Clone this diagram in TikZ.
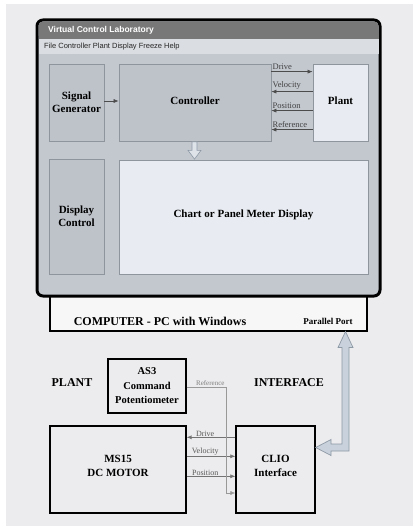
\documentclass[tikz,border=0pt]{standalone}
\usepackage{fontspec}
\setmainfont{Liberation Serif}
\newfontfamily\sansf{Liberation Sans}
\usetikzlibrary{arrows.meta,calc}
\definecolor{bgc}{HTML}{ECECEE}
\definecolor{wing}{HTML}{C3C8CF}
\definecolor{boxg}{HTML}{BEC3CA}
\definecolor{boxb}{HTML}{8F959C}
\definecolor{lite}{HTML}{E8ECF2}
\definecolor{titleg}{HTML}{787878}
\definecolor{menug}{HTML}{DADDE1}
\definecolor{hollowf}{HTML}{C8D1DC}
\definecolor{hollowd}{HTML}{8E99A6}
\tikzset{
  gbox/.style={draw=boxb, fill=boxg, line width=0.8pt, align=center, font=\bfseries\fontsize{11}{13}\selectfont, inner sep=0pt},
  lbox/.style={draw=boxb, fill=lite, line width=0.8pt, align=center, font=\bfseries\fontsize{11}{13}\selectfont, inner sep=0pt},
  bbox/.style={draw=black, fill=bgc, line width=1.4pt, align=center, font=\bfseries\fontsize{11}{14}\selectfont, inner sep=0pt},
  btxt/.style={align=center, font=\bfseries\fontsize{11}{14}\selectfont, inner sep=0pt},
  conn/.style={draw=black!70, line width=0.5pt, -{Latex[length=5pt,width=4pt]}},
  lconn/.style={draw=black!55, line width=0.45pt, -{Latex[length=5pt,width=4pt]}},
  tlab/.style={font=\fontsize{8.5}{9}\selectfont, text=black!75, inner sep=1pt},
  blab/.style={font=\fontsize{8}{9}\selectfont, text=black!65, inner sep=1pt},
  big/.style={font=\bfseries\fontsize{12}{14}\selectfont}
}
\begin{document}
\begin{tikzpicture}[x=1pt,y=-1pt]
\useasboundingbox (0,0) rectangle (413,526);
\fill[white] (0,0) rectangle (413,526);
\fill[bgc] (6,4) rectangle (413,526);
% computer box
\node[draw=black, fill=white!97!black, line width=1.1pt, minimum width=317pt, minimum height=40pt, inner sep=0pt] (comp) at (208.5,311) {};
\node[big, anchor=center] (comptxt) at (160,321) {COMPUTER - PC with Windows};
\node[font=\bfseries\fontsize{9}{10}\selectfont] (pport) at (328,321) {Parallel Port};
% window
\draw[fill=wing, draw=black, line width=3pt, rounded corners=6pt] (37,20) rectangle (380,296);
\fill[titleg, rounded corners=4pt] (38.5,21.5) rectangle (378.5,39);
\fill[titleg] (38.5,30) rectangle (378.5,39);
\fill[menug] (38.5,39) rectangle (378.5,54);
\node[anchor=west, text=white, font=\sansf\bfseries\fontsize{8.5}{10}\selectfont, inner sep=0pt] (title) at (48,30.5) {Virtual Control Laboratory};
\node[anchor=west, text=black!85, font=\sansf\fontsize{7.5}{9}\selectfont, inner sep=0pt] (menu) at (44,47) {File Controller Plant Display Freeze Help};
% inner boxes
\node[gbox, minimum width=55pt, minimum height=77pt] (sg) at (76.5,102.5) {Signal\\Generator};
\node[gbox, minimum width=152pt, minimum height=77pt, text depth=0pt] (ctrl) at (195,102.5) {\raisebox{3pt}{Controller}};
\node[lbox, minimum width=55pt, minimum height=77pt] (plant) at (340.5,102.5) {\raisebox{3pt}{Plant}};
\node[gbox, minimum width=55pt, minimum height=115pt] (dc) at (76.5,216.5) {Display\\Control};
\node[lbox, minimum width=249pt, minimum height=114pt] (chart) at (243.5,217) {\raisebox{7pt}{Chart or Panel Meter Display}};
% connectors in window
\draw[conn] (sg.east |- 0,101) -- (ctrl.west |- 0,101);
\draw[conn] ($(ctrl.north east)+(0,8)$) -- node[tlab, pos=0, anchor=south west, yshift=1pt] {Drive} ($(plant.north west)+(0,8)$);
\draw[conn] ($(plant.north west)+(0,28)$) -- node[tlab, pos=1, anchor=south west, yshift=1pt] {Velocity} ($(ctrl.north east)+(0,28)$);
\draw[conn] ($(plant.north west)+(0,47)$) -- node[tlab, pos=1, anchor=south west, yshift=1pt] {Position} ($(ctrl.north east)+(0,47)$);
\draw[conn] ($(plant.north west)+(0,66)$) -- node[tlab, pos=1, anchor=south west, yshift=1pt] {Reference} ($(ctrl.north east)+(0,66)$);
% hollow down arrow
\coordinate (ha) at (ctrl.south -| 194.5,0);
\draw[fill=hollowf!60!white, draw=hollowd, line width=0.6pt]
  ($(ha)+(-2.5,0.5)$) -- ($(ha)+(-2.5,9)$) -- ($(ha)+(-6.5,9)$) -- ($(chart.north -| ha)+(0,-0.5)$)
  -- ($(ha)+(6.5,9)$) -- ($(ha)+(2.5,9)$) -- ($(ha)+(2.5,0.5)$) -- cycle;
% lower part
\node[big] (plantl) at (72,383) {PLANT};
\node[big] (intl) at (289,383) {INTERFACE};
\node[bbox, minimum width=78pt, minimum height=54pt, font=\bfseries\fontsize{10.5}{14.5}\selectfont] (as3) at (147,386) {AS3\\Command\\Potentiometer};
\node[bbox, minimum width=136pt, minimum height=87pt] (ms) at (118,469.5) {};
\node[btxt] (mstxt) at (118,466) {MS15\\DC MOTOR};
\node[bbox, minimum width=79pt, minimum height=87pt] (clio) at (275.5,469.5) {};
\node[btxt] (cliotxt) at (275.5,466) {CLIO\\Interface};
\draw[lconn] ($(clio.north west)+(0,12)$) -- node[blab, pos=0.62, above] {Drive} ($(ms.north east)+(0,12)$);
\draw[lconn] ($(ms.north east)+(0,31)$) -- node[blab, pos=0.38, above] {Velocity} ($(clio.north west)+(0,31)$);
\draw[lconn] ($(ms.north east)+(0,51)$) -- node[blab, pos=0.38, above] {Position} ($(clio.north west)+(0,51)$);
\coordinate (rc) at (226,387);
\draw[lconn, draw=black!40] (as3.east |- rc) -- node[blab, pos=0.6, above, text=black!50, font=\fontsize{7}{8}\selectfont] {Reference} (rc) -- (rc |- 0,493) -- (clio.west |- 0,493);
% big hollow double arrow
\coordinate (pb) at (comp.south -| 345.5,0);
\draw[fill=hollowf, draw=hollowd, line width=0.7pt, line join=miter]
  (pb) -- ($(pb)+(7.5,16)$) -- ($(pb)+(3.5,16)$) -- (349,451) -- (331,451) -- (331,455.5)
  -- (clio.east |- 0,447.5) -- (331,439.5) -- (331,444) -- (342,444) -- ($(pb)+(-3.5,16)$) -- ($(pb)+(-7.5,16)$) -- cycle;
\end{tikzpicture}
\end{document}
